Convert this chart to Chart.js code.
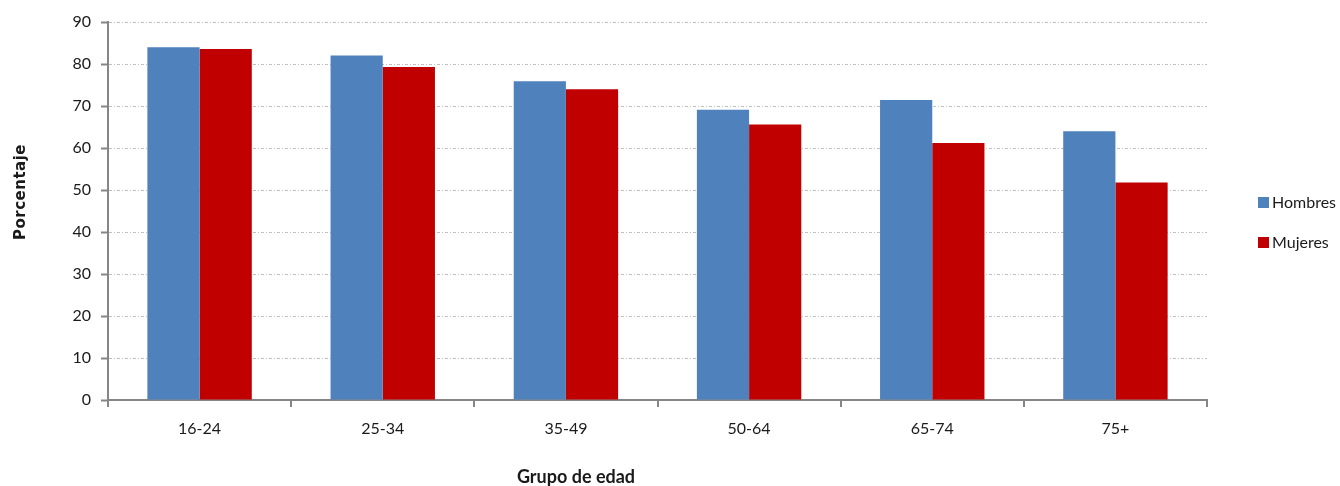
<!DOCTYPE html>
<html>
<head>
<meta charset="utf-8">
<script src="https://cdn.jsdelivr.net/npm/chart.js@4/dist/chart.umd.min.js"></script>
<style>
  html, body { margin: 0; padding: 0; background: #fff; }
  #wrap { width: 1340px; height: 486px; position: relative; }
</style>
</head>
<body>
<div id="wrap"><canvas id="ageChart"></canvas></div>
<script>
// Chart data
const categories = ['16-24', '25-34', '35-49', '50-64', '65-74', '75+'];
const hombres = [84.0, 82.0, 75.9, 69.1, 71.4, 64.0];
const mujeres = [83.6, 79.3, 74.0, 65.6, 61.2, 51.8];
const seriesNames = ['Hombres', 'Mujeres'];
const yTicks = [0, 10, 20, 30, 40, 50, 60, 70, 80, 90];

const axisGrey = '#868686';
const textColor = '#1a1a1a';
const fontFamily = 'Lato, "Open Sans", sans-serif';

/**
 * Draws axis titles and the right-hand legend
 */
const extrasPlugin = {
    id: 'extras',
    afterDraw(chart) {
        const ctx = chart.ctx;
        ctx.save();
        ctx.fillStyle = textColor;
        ctx.textAlign = 'center';
        ctx.textBaseline = 'middle';

        // x axis title
        ctx.font = 'bold 18px ' + fontFamily;
        ctx.fillText('Grupo de edad', 576, 477);

        // y axis title
        ctx.save();
        ctx.font = 'bold 15px "DejaVu Sans", sans-serif';
        ctx.letterSpacing = '0.5px';
        ctx.translate(21, 192);
        ctx.rotate(-Math.PI / 2);
        ctx.fillText('Porcentaje', 0, 0);
        ctx.restore();

        // legend
        ctx.font = '16px ' + fontFamily;
        ctx.textAlign = 'left';
        chart.data.datasets.forEach(function(ds, i) {
            const y = 202 + i * 40;
            ctx.fillStyle = ds.backgroundColor;
            ctx.fillRect(1258, y - 5, 11, 11);
            ctx.fillStyle = textColor;
            ctx.fillText(ds.label, 1272, y + 1);
        });
        ctx.restore();
    }
};

const ctx = document.getElementById('ageChart').getContext('2d');
const ageChart = new Chart(ctx, {
    type: 'bar',
    data: {
        labels: categories,
        datasets: [{
            label: seriesNames[0],
            data: hombres,
            backgroundColor: '#4F81BD',
            categoryPercentage: 0.57,
            barPercentage: 1.0
        }, {
            label: seriesNames[1],
            data: mujeres,
            backgroundColor: '#C00000',
            categoryPercentage: 0.57,
            barPercentage: 1.0
        }]
    },
    options: {
        responsive: true,
        maintainAspectRatio: false,
        animation: false,
        layout: {
            padding: { left: 0, right: 133, top: 22, bottom: 0 }
        },
        plugins: {
            legend: { display: false },
            tooltip: { enabled: false }
        },
        scales: {
            x: {
                afterFit: function(scale) { scale.height = 86; },
                grid: {
                    drawOnChartArea: false,
                    drawTicks: true,
                    tickLength: 7,
                    color: axisGrey,
                    lineWidth: 2
                },
                border: { color: axisGrey, width: 2 },
                ticks: {
                    color: textColor,
                    font: { family: fontFamily, size: 16 },
                    padding: 12
                }
            },
            y: {
                min: 0,
                max: 90,
                afterFit: function(scale) { scale.width = 108; },
                afterBuildTicks: function(scale) {
                    scale.ticks = yTicks.map(v => ({ value: v }));
                },
                grid: {
                    color: '#bfbfbf',
                    lineWidth: 1,
                    tickLength: 7,
                    tickColor: axisGrey,
                    tickWidth: 2,
                    tickBorderDash: []
                },
                border: { color: axisGrey, width: 2, dash: [3, 2, 1, 2] },
                ticks: {
                    color: textColor,
                    font: { family: fontFamily, size: 16 },
                    padding: 10
                }
            }
        }
    },
    plugins: [extrasPlugin]
});
</script>
</body>
</html>
